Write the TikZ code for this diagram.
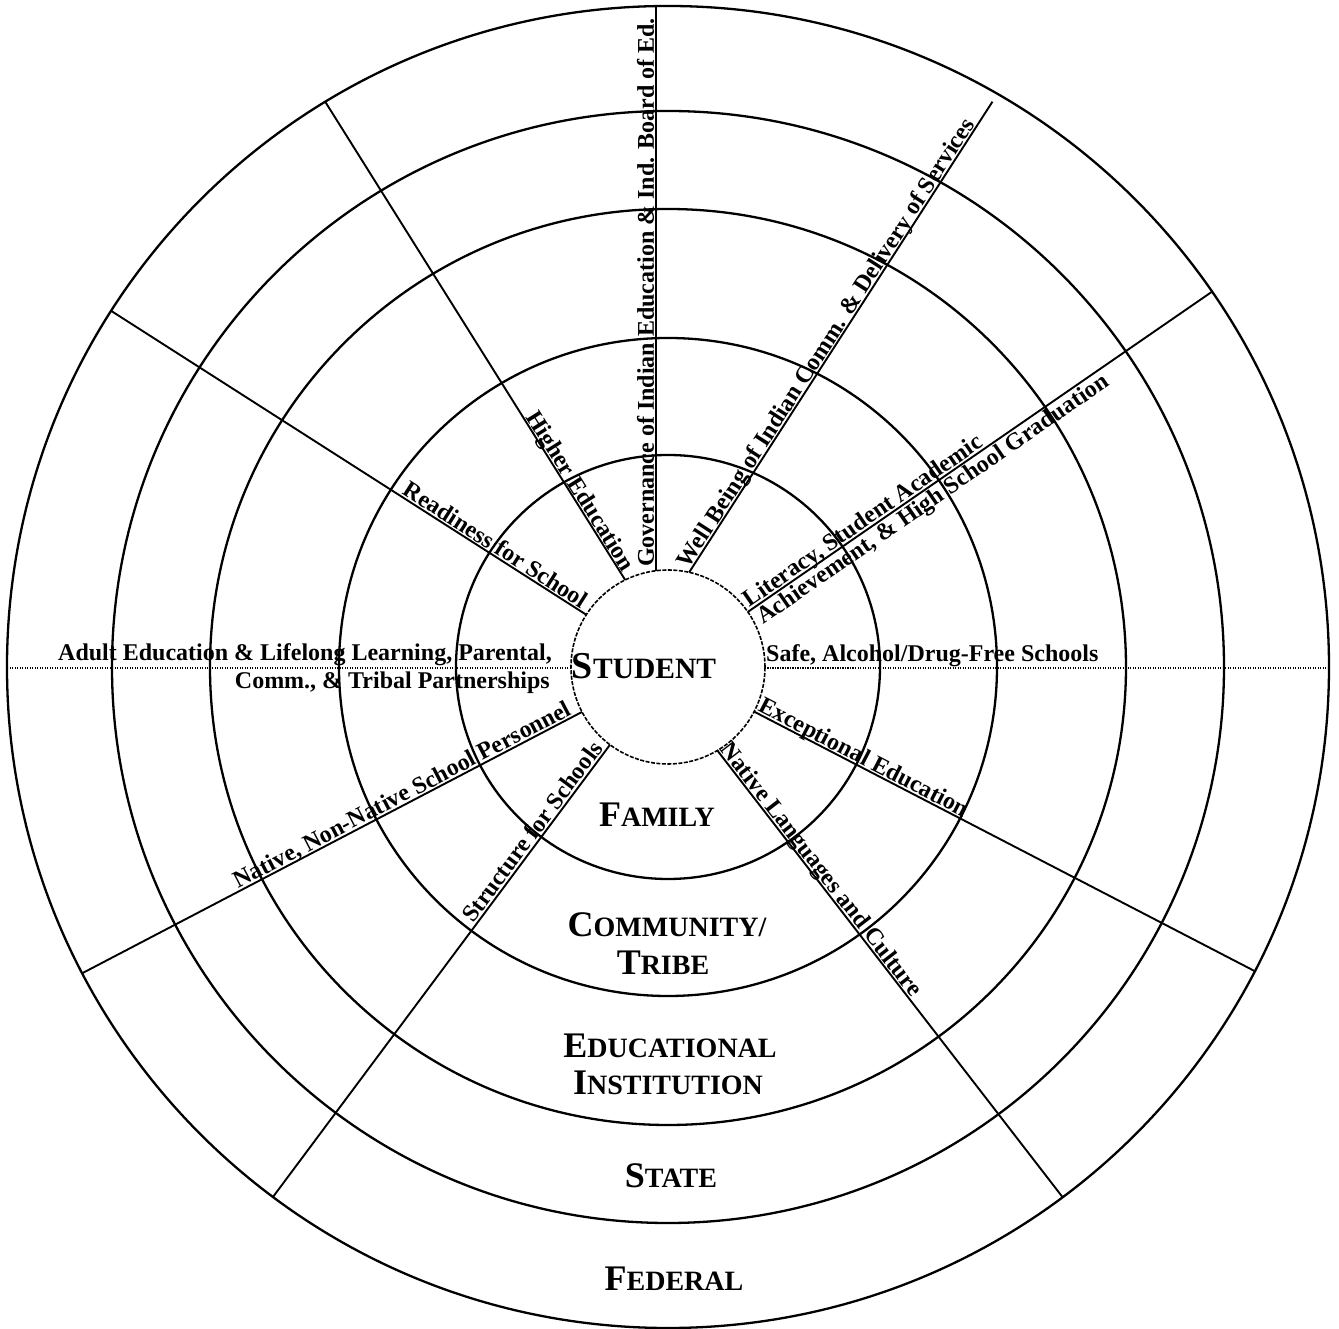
\documentclass[tikz,border=0pt]{standalone}
\usepackage{fontspec}
\setmainfont{Liberation Serif}
\newcommand{\myscap}[2]{{\fontsize{36}{40}\selectfont #1}{\fontsize{28}{32}\selectfont #2}}
\begin{document}
\begin{tikzpicture}[x=1pt,y=1pt,
  ring/.style={line width=2.3pt},
  spoke/.style={line width=1.9pt},
  dotline/.style={line width=1.8pt, dash pattern=on 1.3pt off 1.2pt},
  lab/.style={font=\bfseries\fontsize{24}{28}\selectfont, inner sep=0pt},
  zone/.style={font=\bfseries, inner sep=0pt}]
\useasboundingbox[fill=white] (-668,-662) rectangle (671,667);
% rings
\foreach \r in {212,329,458,556,661} \draw[ring] (0,0) circle (\r);
\draw[line width=1.6pt, dash pattern=on 4pt off 1.5pt] (0,0) circle (97);
% horizontal dotted axis
\coordinate (hR1) at (97,-1); \coordinate (hR2) at (661,-1);
\coordinate (hL1) at (-97,-1); \coordinate (hL2) at (-661,-1);
\draw[dotline] (hR1) -- (hR2);
\draw[dotline] (hL1) -- (hL2);
\node[lab, anchor=base west] (safe) at (98,5) {Safe, Alcohol/Drug-Free Schools};
\node[lab, anchor=base east] (adult) at (-116,6) {Adult Education \& Lifelong Learning, Parental,};
\node[lab, anchor=base east] (comm) at (-118,-22) {Comm., \& Tribal Partnerships};
% Governance (vertical)
\begin{scope}[rotate=90, transform shape]
  \coordinate (govA) at (96.3,12); \coordinate (govB) at (660.9,12);
  \draw[spoke] (govA) -- (govB);
  \node[lab, anchor=base west] (gov) at (100,14) {Governance of Indian Education \& Ind. Board of Ed.};
\end{scope}
% Well Being
\begin{scope}[rotate=57.2, transform shape]
  \coordinate (wellA) at (91,33.5); \coordinate (wellB) at (651,33.5);
  \draw[spoke] (wellA) -- (wellB);
  \node[lab, anchor=base west] (well) at (93,35.5) {Well Being of Indian Comm. \& Delivery of Services};
\end{scope}
% Literacy
\begin{scope}[rotate=34.6, transform shape]
  \coordinate (litA) at (97,0); \coordinate (litB) at (661,0);
  \draw[spoke] (litA) -- (litB);
  \node[lab, anchor=base west] (lit1) at (101,2.5) {Literacy, Student Academic};
  \node[lab, anchor=north west] (lit2) at (102,-2.5) {Achievement, \& High School Graduation};
\end{scope}
% Exceptional Education
\begin{scope}[rotate=-27.4, transform shape]
  \coordinate (excA) at (97,0); \coordinate (excB) at (661,0);
  \draw[spoke] (excA) -- (excB);
  \node[lab, anchor=base west] (exc) at (99,2.5) {Exceptional Education};
\end{scope}
% Native Languages and Culture
\begin{scope}[rotate=-52.3, transform shape]
  \coordinate (natA) at (96.3,-12); \coordinate (natB) at (660.9,-12);
  \draw[spoke] (natA) -- (natB);
  \node[lab, anchor=base west] (nat) at (97,-9.5) {Native Languages and Culture};
\end{scope}
% Structure for Schools
\begin{scope}[rotate=53.3, transform shape]
  \coordinate (strA) at (-97,0); \coordinate (strB) at (-661,0);
  \draw[spoke] (strA) -- (strB);
  \node[lab, anchor=base east] (str) at (-104,2.5) {Structure for Schools};
\end{scope}
% Native, Non-Native School Personnel
\begin{scope}[rotate=27.6, transform shape]
  \coordinate (perA) at (-97,0); \coordinate (perB) at (-661,0);
  \draw[spoke] (perA) -- (perB);
  \node[lab, anchor=base east] (per) at (-106,2.5) {Native, Non-Native School Personnel};
\end{scope}
% Readiness for School
\begin{scope}[rotate=-32.6, transform shape]
  \coordinate (reaA) at (-97,0); \coordinate (reaB) at (-661,0);
  \draw[spoke] (reaA) -- (reaB);
  \node[lab, anchor=base east] (rea) at (-104,2.5) {Readiness for School};
\end{scope}
% Higher Education
\begin{scope}[rotate=-57.9, transform shape]
  \coordinate (higA) at (-96.5,10); \coordinate (higB) at (-660.9,10);
  \draw[spoke] (higA) -- (higB);
  \node[lab, anchor=base east] (hig) at (-104,12) {Higher Education};
\end{scope}
% zone labels
\node[zone, anchor=base] (student) at (-24,-12) {{\fontsize{38}{40}\selectfont S}{\fontsize{29.5}{32}\selectfont TUDENT}};
\node[zone, anchor=base] (family) at (-11,-160) {\myscap{F}{AMILY}};
\node[zone, anchor=base] (community) at (-1,-270) {\myscap{C}{OMMUNITY/}};
\node[zone, anchor=base] (tribe) at (-5,-308) {\myscap{T}{RIBE}};
\node[zone, anchor=base] (educ) at (2,-391) {\myscap{E}{DUCATIONAL}};
\node[zone, anchor=base] (inst) at (0,-428) {\myscap{I}{NSTITUTION}};
\node[zone, anchor=base] (state) at (3,-521) {\myscap{S}{TATE}};
\node[zone, anchor=base] (federal) at (6,-623) {\myscap{F}{EDERAL}};
\end{tikzpicture}
\end{document}
